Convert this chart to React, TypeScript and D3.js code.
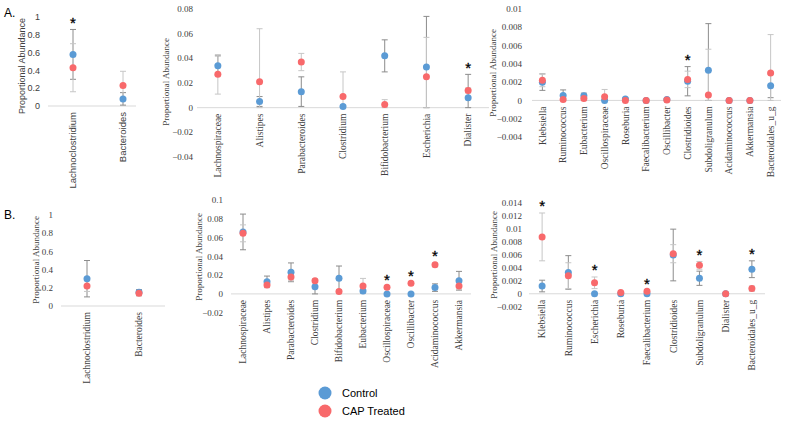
import * as d3 from "d3";

// ---- data ----
const a1Cats = ["Lachnoclostridium", "Bacteroides"];
const a1Control = [0.58, 0.08];
const a1ControlErr = [0.28, 0.07];
const a1Cap = [0.43, 0.23];
const a1CapErr = [0.27, 0.16];
const a1Stars = ["Lachnoclostridium"];
const a1Ticks = [0, 0.2, 0.4, 0.6, 0.8, 1];

const a2Cats = ["Lachnospiraceae", "Alistipes", "Parabacteroides", "Clostridium", "Bifidobacterium", "Escherichia", "Dialister"];
const a2Control = [0.034, 0.005, 0.013, 0.001, 0.042, 0.033, 0.008];
const a2ControlErr = [0.008, 0.004, 0.012, 0.001, 0.013, 0.041, 0.019];
const a2Cap = [0.027, 0.021, 0.037, 0.009, 0.0025, 0.025, 0.014];
const a2CapErr = [0.016, 0.043, 0.007, 0.02, 0.004, 0.032, 0.002];
const a2Stars = ["Dialister"];
const a2Ticks = [-0.04, -0.02, 0, 0.02, 0.04, 0.06, 0.08];

const a3Cats = ["Klebsiella", "Ruminococcus", "Eubacterium", "Oscillospiraceae", "Roseburia", "Faecalibacterium", "Oscillibacter", "Clostridioides", "Subdoligranulum", "Acidaminococcus", "Akkermansia", "Bacteroidales_u_g"];
const a3Control = [0.002, 0.00055, 0.0005, 0, 0.00015, 0, 0.0001, 0.0021, 0.0033, 0, 0, 0.0016];
const a3ControlErr = [0.0009, 0.0006, 0.0003, 0.0001, 0.0001, 0, 0.0001, 0.0016, 0.0051, 0, 0, 0.0013];
const a3Cap = [0.0022, 0.0001, 0.0002, 0.0004, 0, 0, 0.00005, 0.0023, 0.0006, 0, 0, 0.003];
const a3CapErr = [0.0007, 0.0001, 0.0002, 0.0008, 0, 0, 0.0001, 0.0009, 0.005, 0, 0, 0.0042];
const a3Stars = ["Clostridioides"];
const a3Ticks = [-0.004, -0.002, 0, 0.002, 0.004, 0.006, 0.008, 0.01];

const b1Cats = ["Lachnoclostridium", "Bacteroides"];
const b1Control = [0.3, 0.15];
const b1ControlErr = [0.2, 0.03];
const b1Cap = [0.22, 0.14];
const b1CapErr = [0.06, 0.03];
const b1Stars: string[] = [];
const b1Ticks = [0, 0.2, 0.4, 0.6, 0.8, 1];

const b2Cats = ["Lachnospiraceae", "Alistipes", "Parabacteroides", "Clostridium", "Bifidobacterium", "Eubacterium", "Oscillospiraceae", "Oscillibacter", "Acidaminococcus", "Akkermansia"];
const b2Control = [0.066, 0.013, 0.023, 0.0075, 0.0167, 0.003, 0, 0, 0.0067, 0.014];
const b2ControlErr = [0.019, 0.006, 0.01, 0.008, 0.013, 0.002, 0, 0, 0.004, 0.01];
const b2Cap = [0.0645, 0.0096, 0.018, 0.014, 0.0025, 0.0085, 0.007, 0.0114, 0.031, 0.0085];
const b2CapErr = [0.009, 0.003, 0.004, 0.002, 0.002, 0.008, 0.001, 0.001, 0.002, 0.004];
const b2Stars = ["Oscillospiraceae", "Oscillibacter", "Acidaminococcus"];
const b2Ticks = [-0.02, 0, 0.02, 0.04, 0.06, 0.08, 0.1];

const b3Cats = ["Klebsiella", "Ruminococcus", "Escherichia", "Roseburia", "Faecalibacterium", "Clostridioides", "Subdoligranulum", "Dialister", "Bacteroidales_u_g"];
const b3Control = [0.0012, 0.0033, 0, 0, 0, 0.006, 0.0024, 0, 0.0038];
const b3ControlErr = [0.0009, 0.0026, 0, 0, 0, 0.004, 0.0011, 0, 0.0013];
const b3Cap = [0.0088, 0.0028, 0.0017, 0.0002, 0.0004, 0.0062, 0.0044, 0, 0.0008];
const b3CapErr = [0.0037, 0.002, 0.0009, 0, 0.0001, 0.0014, 0.0006, 0, 0.0004];
const b3Stars = ["Klebsiella", "Escherichia", "Faecalibacterium", "Subdoligranulum", "Bacteroidales_u_g"];
const b3Ticks = [-0.002, 0, 0.002, 0.004, 0.006, 0.008, 0.01, 0.012, 0.014];

const seriesNames = ["Control", "CAP Treated"];

// ---- styles ----
const BLUE = "#5b9bd5";
const RED = "#f8696b";
const ERR_DARK = "#8c8c8c";
const ERR_LIGHT = "#c6c6c6";
const AXIS = "#d9d9d9";
const SANS = "'Liberation Sans', Arial, sans-serif";
const SERIF = "'Liberation Serif', 'Times New Roman', serif";

interface PanelSpec {
  cats: string[];
  control: number[];
  controlErr: number[];
  cap: number[];
  capErr: number[];
  stars: string[];
  ticks: number[];
  xRange: [number, number];
  axisEnd: number;
  yDomain: [number, number];
  yRange: [number, number];
  tickX: number;
  titleX: number;
  titleY: number;
  font: string;
  labelSize: number;
}

const fmt = d3.format("~g");

function ErrBar({ x, y, v, e, color }: { x: number; y: d3.ScaleLinear<number, number>; v: number; e: number; color: string }) {
  if (!e) return null;
  const top = y(v + e);
  const bot = y(Math.max(0, v - e)); // lower whisker stops at zero
  return (
    <g stroke={color} strokeWidth={1}>
      <line x1={x} x2={x} y1={top} y2={bot} />
      <line x1={x - 3} x2={x + 3} y1={top} y2={top} />
      <line x1={x - 3} x2={x + 3} y1={bot} y2={bot} />
    </g>
  );
}

function Panel({ p }: { p: PanelSpec }) {
  const x = d3.scaleBand<string>().domain(p.cats).range(p.xRange);
  const y = d3.scaleLinear().domain(p.yDomain).range(p.yRange);
  const cx = (c: string) => (x(c) ?? 0) + x.bandwidth() / 2;
  const y0 = y(0);

  return (
    <g fontFamily={p.font}>
      {p.ticks.map((t) => (
        <text key={t} x={p.tickX} y={y(t)} dy="0.35em" textAnchor="end" fontSize={9} fill="#404040">
          {fmt(t)}
        </text>
      ))}
      <text transform={`translate(${p.titleX},${p.titleY}) rotate(-90)`} textAnchor="middle" dy="0.35em" fontSize={9} fill="#404040">
        Proportional Abundance
      </text>
      <line x1={p.xRange[0]} x2={p.axisEnd} y1={y0} y2={y0} stroke={AXIS} />
      {p.cats.map((c) => (
        <text key={c} transform={`translate(${cx(c)},${y0 + 6}) rotate(-90)`} textAnchor="end" dy="0.35em" fontSize={p.labelSize} fill="#404040">
          {c}
        </text>
      ))}
      {p.cats.map((c, i) => (
        <g key={c}>
          <ErrBar x={cx(c)} y={y} v={p.control[i]} e={p.controlErr[i]} color={ERR_DARK} />
          <ErrBar x={cx(c)} y={y} v={p.cap[i]} e={p.capErr[i]} color={ERR_LIGHT} />
        </g>
      ))}
      {p.cats.map((c, i) => (
        <circle key={c} cx={cx(c)} cy={y(p.control[i])} r={3.5} fill={BLUE} />
      ))}
      {p.cats.map((c, i) => (
        <circle key={c} cx={cx(c)} cy={y(p.cap[i])} r={3.5} fill={RED} />
      ))}
      {p.cats.map((c, i) => {
        if (!p.stars.includes(c)) return null;
        const top = Math.min(y(p.control[i] + p.controlErr[i]), y(p.cap[i] + p.capErr[i]));
        return (
          <text key={c} x={cx(c)} y={top - 1.5} textAnchor="middle" fontFamily={SANS} fontSize={15} fill="#000" stroke="#000" strokeWidth={0.3}>
            *
          </text>
        );
      })}
    </g>
  );
}

const panels: PanelSpec[] = [
  { cats: a1Cats, control: a1Control, controlErr: a1ControlErr, cap: a1Cap, capErr: a1CapErr, stars: a1Stars, ticks: a1Ticks,
    xRange: [48, 148], axisEnd: 136, yDomain: [0, 1], yRange: [106, 17], tickX: 40, titleX: 22, titleY: 66, font: SANS, labelSize: 9.5 },
  { cats: a2Cats, control: a2Control, controlErr: a2ControlErr, cap: a2Cap, capErr: a2CapErr, stars: a2Stars, ticks: a2Ticks,
    xRange: [197, 489], axisEnd: 489, yDomain: [-0.04, 0.08], yRange: [157, 9], tickX: 193, titleX: 166, titleY: 82, font: SERIF, labelSize: 9.5 },
  { cats: a3Cats, control: a3Control, controlErr: a3ControlErr, cap: a3Cap, capErr: a3CapErr, stars: a3Stars, ticks: a3Ticks,
    xRange: [532, 781], axisEnd: 781, yDomain: [-0.004, 0.01], yRange: [137, 9], tickX: 522, titleX: 493, titleY: 73, font: SERIF, labelSize: 9.5 },
  { cats: b1Cats, control: b1Control, controlErr: b1ControlErr, cap: b1Cap, capErr: b1CapErr, stars: b1Stars, ticks: b1Ticks,
    xRange: [61, 165], axisEnd: 165, yDomain: [0, 1], yRange: [306, 215], tickX: 53, titleX: 36, titleY: 260, font: SERIF, labelSize: 9.5 },
  { cats: b2Cats, control: b2Control, controlErr: b2ControlErr, cap: b2Cap, capErr: b2CapErr, stars: b2Stars, ticks: b2Ticks,
    xRange: [231, 471], axisEnd: 471, yDomain: [-0.02, 0.1], yRange: [312.7, 200], tickX: 223, titleX: 199, titleY: 257, font: SERIF, labelSize: 9.5 },
  { cats: b3Cats, control: b3Control, controlErr: b3ControlErr, cap: b3Cap, capErr: b3CapErr, stars: b3Stars, ticks: b3Ticks,
    xRange: [529, 765], axisEnd: 765, yDomain: [-0.002, 0.014], yRange: [306.7, 203.3], tickX: 522, titleX: 494, titleY: 255, font: SERIF, labelSize: 9.5 },
];

export default function App() {
  const legendColors = [BLUE, RED];
  return (
    <svg width={786} height={421} style={{ position: "absolute", left: 0, top: 0, background: "#fff" }}>
      <rect width={786} height={421} fill="#fff" />
      <text x={4} y={17} fontFamily={SANS} fontSize={12} fill="#000">A.</text>
      <text x={4} y={219} fontFamily={SANS} fontSize={12} fill="#000">B.</text>
      {panels.map((p, i) => (
        <Panel key={i} p={p} />
      ))}
      {seriesNames.map((s, i) => (
        <g key={s} transform={`translate(325,${393 + i * 18})`}>
          <circle r={6.5} fill={legendColors[i]} />
          <text x={17} dy="0.35em" fontFamily={SANS} fontSize={11} fill="#000">{s}</text>
        </g>
      ))}
    </svg>
  );
}
